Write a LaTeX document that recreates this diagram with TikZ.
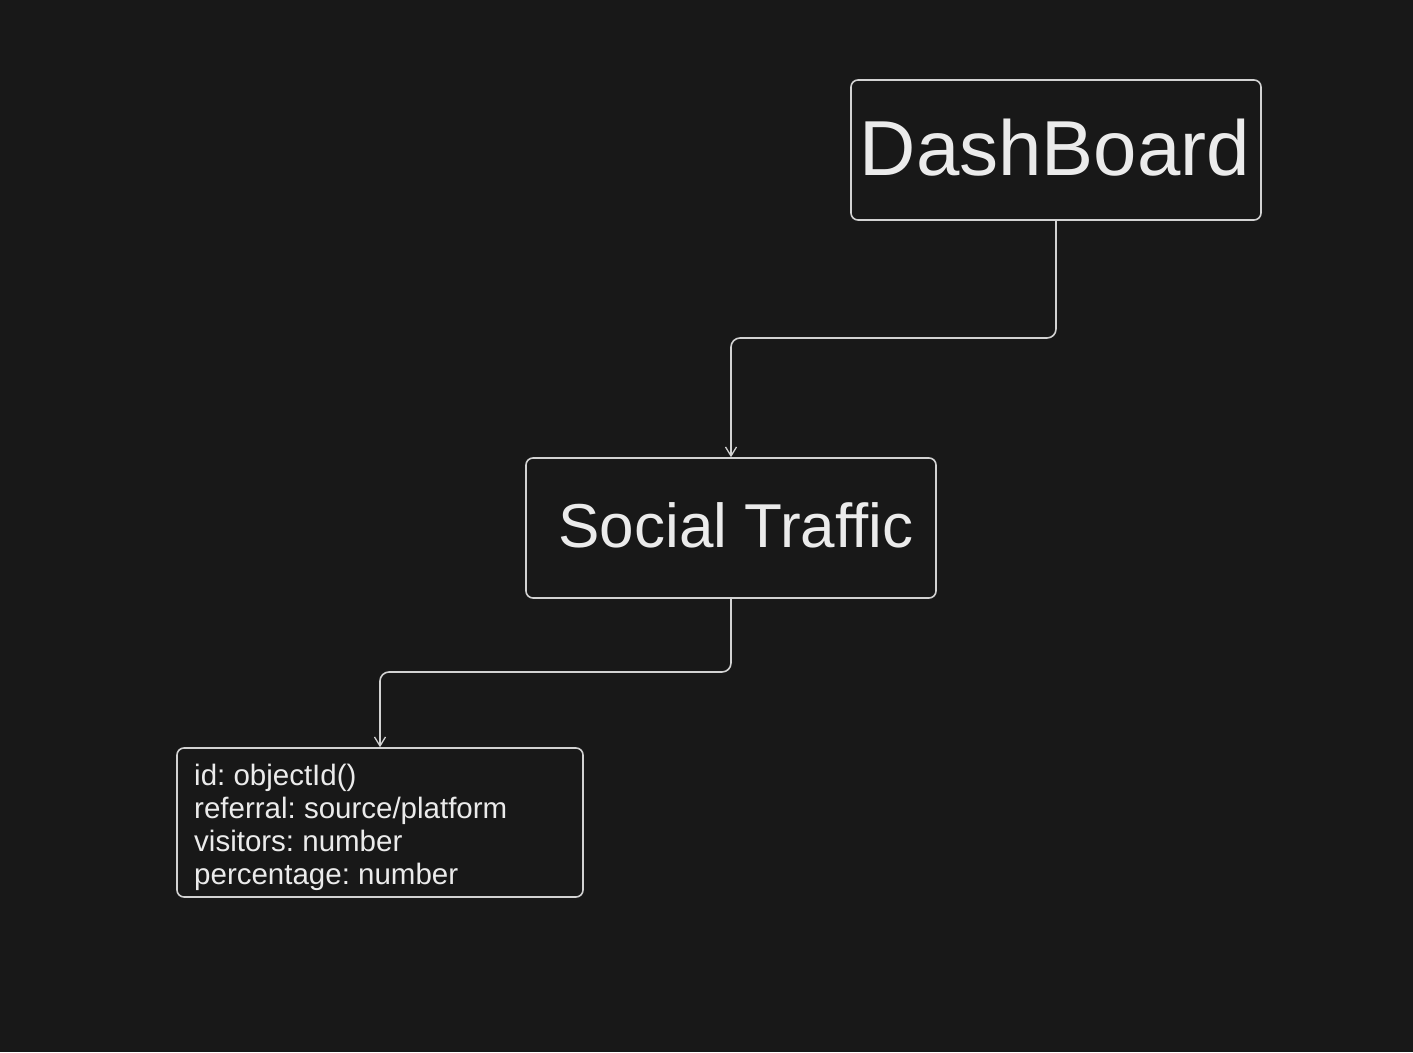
\documentclass[tikz,border=0pt]{standalone}
\usepackage{fontspec}
\setmainfont{Liberation Sans}
\usetikzlibrary{arrows.meta}
\frenchspacing
\definecolor{bg}{HTML}{181818}
\definecolor{ln}{HTML}{D2D2D2}
\definecolor{tx}{HTML}{EBEBEB}
\begin{document}
\begin{tikzpicture}[x=1pt,y=-1pt,
  box/.style={draw=ln, line width=1.6pt, rounded corners=7pt, inner sep=0pt},
  conn/.style={draw=ln, line width=1.6pt, rounded corners=9pt, -{Straight Barb[length=9pt,width=11pt,line width=1.3pt]}},
  title/.style={text=tx, inner sep=0pt}]
\fill[bg] (0,0) rectangle (1413,1052);
\useasboundingbox (0,0) rectangle (1413,1052);
\node[box, minimum width=410pt, minimum height=140pt] (dash) at (1056,150) {};
\node[title, font=\fontsize{78}{90}\selectfont] (dashtxt) at (1055,148) {DashBoard};
\node[box, minimum width=410pt, minimum height=140pt] (social) at (731,528) {};
\node[title, font=\fontsize{62}{72}\selectfont] (socialtxt) at (736,525) {Social Traffic};
\node[box, minimum width=406pt, minimum height=149pt] (fields) at (380,822.5) {};
\node[text=tx, anchor=base west, align=left, inner sep=0pt,
      font=\fontsize{29.5}{33}\selectfont] (fieldtxt) at (194,884)
  {id: objectId()\\referral: source/platform\\visitors: number\\percentage: number};
\draw[conn] (dash.south) -- (dash.south |- 0,338) -| (social.north);
\draw[conn] (social.south) -- (social.south |- 0,672) -| (fields.north);
\end{tikzpicture}
\end{document}
